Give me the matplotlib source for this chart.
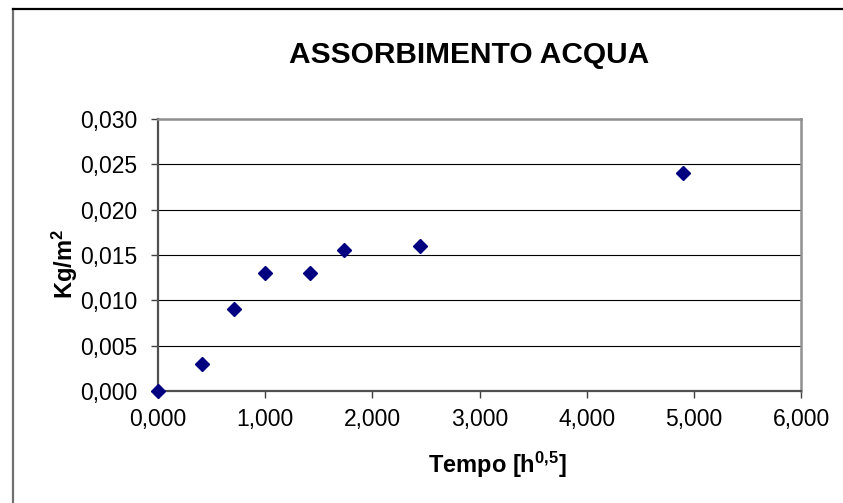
import numpy as np
import matplotlib
matplotlib.use("Agg")
import matplotlib.pyplot as plt
from matplotlib.ticker import FuncFormatter, MultipleLocator
from matplotlib.lines import Line2D

plt.rcParams['font.family'] = ['Liberation Sans', 'DejaVu Sans']
plt.rcParams['mathtext.fontset'] = 'custom'
plt.rcParams['mathtext.rm'] = 'Liberation Sans:bold'
plt.rcParams['mathtext.default'] = 'rm'

# tempo in radice di ore, assorbimento in kg/m2
tempo = [0.0, 0.408, 0.707, 1.0, 1.414, 1.732, 2.449, 4.899]
assorbimento = [0.0, 0.003, 0.009, 0.013, 0.013, 0.0155, 0.016, 0.024]

f = plt.figure(figsize=(8.43, 5.03), dpi=100)
a = f.add_axes([158/843, 1-391/503, (801-158)/843, (391-119)/503])

a.plot(tempo, assorbimento, linestyle='none', marker='D', ms=7.5,
       color='#000080', mec='#000080', clip_on=False, zorder=5)

a.set_xlim(0, 6)
a.set_ylim(0, 0.030)
a.xaxis.set_major_locator(MultipleLocator(1))
a.yaxis.set_major_locator(MultipleLocator(0.005))
a.xaxis.set_major_formatter(FuncFormatter(lambda v, p: ('%.3f' % v).replace('.', ',')))
a.yaxis.set_major_formatter(FuncFormatter(lambda v, p: ('%.3f' % v).replace('.', ',')))
a.tick_params(direction='out', length=5, width=1, color='#404040',
              labelsize=16.5, pad=7)
a.tick_params(axis='y', pad=10)
a.grid(axis='y', color='black', linewidth=0.8)
a.set_axisbelow(True)
for s in ['top', 'right']:
    a.spines[s].set_color('#909090')
    a.spines[s].set_linewidth(1.8)
for s in ['left', 'bottom']:
    a.spines[s].set_color('#505050')
    a.spines[s].set_linewidth(1.6)

a.set_xlabel('Tempo [h$^{0{,}5}$]', fontsize=17, fontweight='bold')
a.xaxis.set_label_coords((497-158)/643, (391-450)/272)
a.set_ylabel('Kg/m$^{2}$', fontsize=17, fontweight='bold')
a.yaxis.set_label_coords((80-158)/643, (391-264)/272)

f.text(469/843, 1-55/503, 'ASSORBIMENTO ACQUA', ha='center', va='center',
       fontsize=21.5, fontweight='bold')

# cornice del grafico
f.add_artist(Line2D([13/843, 13/843], [0, 1-9/503], transform=f.transFigure,
                    color='#707070', linewidth=1.6))
f.add_artist(Line2D([13/843, 1], [1-9/503, 1-9/503], transform=f.transFigure,
                    color='black', linewidth=1.6))

f.savefig('out.png', dpi=100)
plt.close(f)
